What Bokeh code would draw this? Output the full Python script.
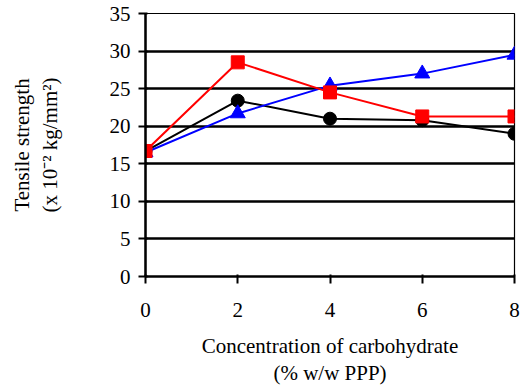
from bokeh.plotting import figure
from bokeh.models import FixedTicker, Range1d
from bokeh.embed import file_html
from bokeh.resources import INLINE

conc = [0, 2, 4, 6, 8]
black_vals = [16.7, 23.4, 21.0, 20.8, 19.0]
red_vals = [16.7, 28.5, 24.5, 21.3, 21.3]
blue_vals = [16.5, 21.7, 25.4, 27.0, 29.5]
x_ticks = [0, 2, 4, 6, 8]
y_ticks = [0, 5, 10, 15, 20, 25, 30, 35]
grid_ticks = [5, 10, 15, 20, 25, 30]
x_title = "Concentration of carbohydrate\n(% w/w PPP)"
y_title = "Tensile strength\n(x 10\u207b\u00b2 kg/mm\u00b2)"

FONT = "Liberation Serif"

p = figure(width=520, height=390, output_backend="svg", toolbar_location=None,
           x_range=Range1d(0, 8), y_range=Range1d(0, 35),
           min_border_left=145, min_border_right=6, min_border_top=13, min_border_bottom=114)
p.background_fill_color = "white"
p.border_fill_color = "white"
p.outline_line_color = "black"
p.outline_line_width = 1.2

for ax, ticks in ((p.xaxis, x_ticks), (p.yaxis, y_ticks)):
    ax.ticker = FixedTicker(ticks=ticks)
    ax.minor_tick_line_color = None
    ax.axis_line_color = "black"
    ax.axis_line_width = 2.5
    ax.major_tick_line_color = "black"
    ax.major_tick_line_width = 2
    ax.major_tick_out = 7
    ax.major_tick_in = 2
    ax.major_label_text_font = FONT
    ax.major_label_text_font_size = "21px"
    ax.major_label_text_color = "black"
    ax.axis_label_text_font = FONT
    ax.axis_label_text_font_size = "21px"
    ax.axis_label_text_font_style = "normal"
    ax.axis_label_text_color = "black"
    ax.axis_label_text_line_height = 1.15

p.xaxis.axis_label = x_title
p.yaxis.axis_label = y_title
p.xaxis.major_label_standoff = 19
p.yaxis.major_label_standoff = 8
p.xaxis.axis_label_standoff = 14
p.yaxis.axis_label_standoff = 45

p.xgrid.visible = False
p.ygrid.ticker = FixedTicker(ticks=grid_ticks)
p.ygrid.grid_line_color = "black"
p.ygrid.grid_line_width = 2.5

p.line(conc, black_vals, line_color="black", line_width=2)
p.scatter(conc, black_vals, marker="circle", size=13, fill_color="black", line_color="black")
p.line(conc, blue_vals, line_color="blue", line_width=2)
p.scatter(conc, blue_vals, marker="triangle", size=15, fill_color="blue", line_color="blue")
p.line(conc, red_vals, line_color="red", line_width=2)
p.scatter(conc, red_vals, marker="square", size=13, fill_color="red", line_color="red")

open("out.html", "w").write(file_html(p, INLINE))
